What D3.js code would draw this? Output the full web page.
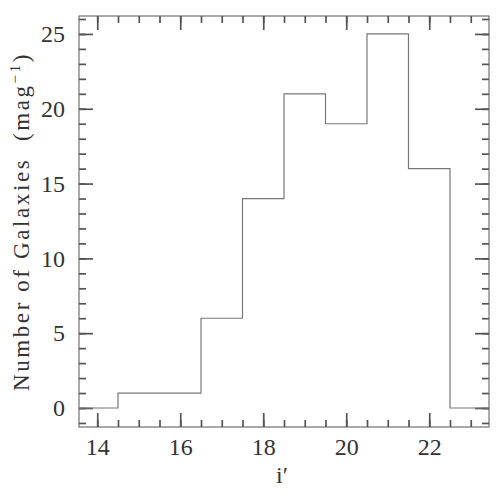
<!DOCTYPE html>
<html>
<head>
<meta charset="utf-8">
<script src="https://cdn.jsdelivr.net/npm/d3@7"></script>
<style>
  body { margin: 0; background: #fff; }
  text { font-family: "Liberation Serif", serif; fill: #333; }
</style>
</head>
<body>
<svg width="500" height="500"></svg>
<script>
// histogram of i' magnitudes, 1 mag bins
const binCenters = [14, 15, 16, 17, 18, 19, 20, 21, 22, 23];
const counts = [0, 1, 1, 6, 14, 21, 19, 25, 16, 0];
const xMajor = [14, 16, 18, 20, 22];
const yMajor = [0, 5, 10, 15, 20, 25];

const svg = d3.select("svg");
const margin = { top: 16, right: 11, bottom: 73, left: 79 };
const innerWidth = 500 - margin.left - margin.right;
const innerHeight = 500 - margin.top - margin.bottom;

const xScale = d3.scaleLinear().domain([13.56, 23.44]).range([0, innerWidth]);
const yScale = d3.scaleLinear().domain([-1.27, 26.2]).range([innerHeight, 0]);

const g = svg.append("g")
  .attr("transform", `translate(${margin.left},${margin.top})`);

// minor tick values
const xMinor = d3.range(13.5, 23.51, 0.5).filter(v => v > 13.56 && v < 23.44);
const yMinor = d3.range(-1, 27, 1).filter(v => v > -1.27 && v < 26.2);

const axisColor = "#555";
const majorLen = 14, minorLen = 7;

// drop the domain line, style ticks, and remove empty labels
function styleAxis(sel) {
  sel.select(".domain").remove();
  sel.selectAll(".tick line")
    .attr("stroke", axisColor)
    .attr("stroke-width", 1.7);
  sel.selectAll(".tick text").filter(function () { return this.textContent === ""; }).remove();
}

// bottom axis
g.append("g").attr("transform", `translate(0,${innerHeight})`)
  .call(d3.axisBottom(xScale).tickValues(xMinor).tickSize(-minorLen).tickFormat(""))
  .call(styleAxis);
g.append("g").attr("transform", `translate(0,${innerHeight})`)
  .call(d3.axisBottom(xScale).tickValues(xMajor).tickSize(-majorLen).tickPadding(11).tickFormat(d3.format("d")))
  .call(styleAxis)
  .selectAll("text").attr("font-size", 24).attr("fill", "#333");

// top axis
g.append("g")
  .call(d3.axisTop(xScale).tickValues(xMinor).tickSize(-minorLen).tickFormat(""))
  .call(styleAxis);
g.append("g")
  .call(d3.axisTop(xScale).tickValues(xMajor).tickSize(-majorLen).tickFormat(""))
  .call(styleAxis);

// left axis
g.append("g")
  .call(d3.axisLeft(yScale).tickValues(yMinor).tickSize(-minorLen).tickFormat(""))
  .call(styleAxis);
g.append("g")
  .call(d3.axisLeft(yScale).tickValues(yMajor).tickSize(-majorLen).tickPadding(14).tickFormat(d3.format("d")))
  .call(styleAxis)
  .selectAll("text").attr("font-size", 24).attr("fill", "#333");

// right axis
g.append("g").attr("transform", `translate(${innerWidth},0)`)
  .call(d3.axisRight(yScale).tickValues(yMinor).tickSize(-minorLen).tickFormat(""))
  .call(styleAxis);
g.append("g").attr("transform", `translate(${innerWidth},0)`)
  .call(d3.axisRight(yScale).tickValues(yMajor).tickSize(-majorLen).tickFormat(""))
  .call(styleAxis);

// frame
g.append("rect")
  .attr("width", innerWidth).attr("height", innerHeight)
  .attr("fill", "none").attr("stroke", "#555").attr("stroke-width", 1);

// histogram step line
g.append("clipPath").attr("id", "clip")
  .append("rect").attr("width", innerWidth).attr("height", innerHeight);

const stepPoints = binCenters.map((c, i) => [c - 0.5, counts[i]]);
stepPoints.push([binCenters[binCenters.length - 1] + 0.5, counts[counts.length - 1]]);

const line = d3.line()
  .x(d => xScale(d[0]))
  .y(d => yScale(d[1]))
  .curve(d3.curveStepAfter);

g.append("path")
  .datum(stepPoints)
  .attr("clip-path", "url(#clip)")
  .attr("d", line)
  .attr("fill", "none")
  .attr("stroke", "#777")
  .attr("stroke-width", 1.2);

// axis labels
g.append("text")
  .attr("x", innerWidth / 2 - 2)
  .attr("y", innerHeight + 56)
  .attr("text-anchor", "middle")
  .attr("font-size", 24)
  .text("i\u2032");

const yLabel = g.append("text")
  .attr("transform", `translate(-50,${innerHeight / 2}) rotate(-90)`)
  .attr("text-anchor", "middle")
  .attr("font-size", 23)
  .attr("letter-spacing", 2.6);
yLabel.append("tspan").text("Number of Galaxies\u00a0\u00a0(mag");
yLabel.append("tspan").attr("dy", -9).attr("font-size", 15).text("\u22121");
yLabel.append("tspan").attr("dy", 9).text(")");
</script>
</body>
</html>
